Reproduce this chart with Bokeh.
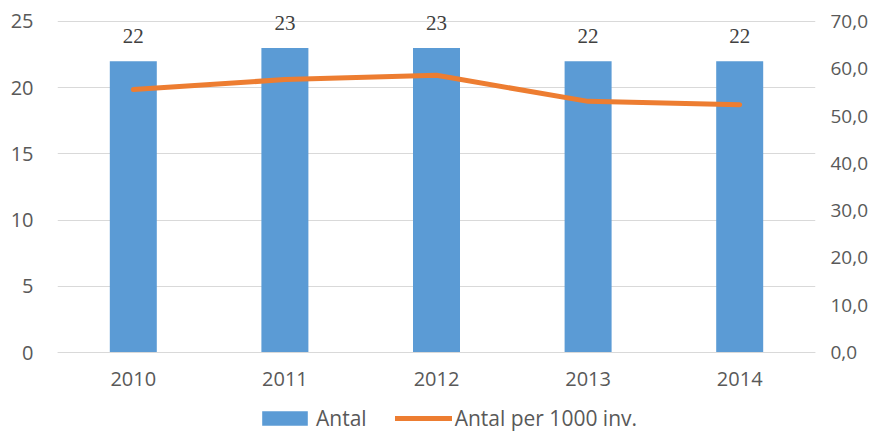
from bokeh.plotting import figure
from bokeh.models import (ColumnDataSource, Range1d, LinearAxis, FixedTicker,
                          Legend, LegendItem, LabelSet)
from bokeh.embed import file_html
from bokeh.resources import INLINE

years = ["2010", "2011", "2012", "2013", "2014"]
antal = [22, 23, 23, 22, 22]
per_1000 = [55.6, 57.7, 58.6, 53.1, 52.4]
left_ticks = [0, 5, 10, 15, 20, 25]
right_ticks = [0, 10, 20, 30, 40, 50, 60, 70]
right_tick_labels = ["0,0", "10,0", "20,0", "30,0", "40,0", "50,0", "60,0", "70,0"]

FONT = "Open Sans"
TXT = "#595959"
BLUE = "#5B9BD5"
ORANGE = "#ED7D31"
GRID = "#D9D9D9"

# view extents: head-room above the top gridline for value labels,
# room below zero for category labels and the legend
Y_TOP = 26.2
Y_BOTTOM = -6.03
K = 70 / 25

src = ColumnDataSource(dict(year=years, antal=antal, per=per_1000,
                            lbl=[str(v) for v in antal]))

p = figure(width=871, height=432, x_range=years, y_range=Range1d(Y_BOTTOM, Y_TOP),
           output_backend="svg", toolbar_location=None,
           min_border_left=57, min_border_right=53, min_border_top=5,
           min_border_bottom=0, outline_line_color=None)
p.extra_y_ranges = {"right": Range1d(Y_BOTTOM * K, Y_TOP * K)}

bars = p.vbar(x="year", top="antal", width=0.31, source=src,
              fill_color=BLUE, line_color=None)
line = p.line(x="year", y="per", source=src, y_range_name="right",
              line_color=ORANGE, line_width=5, line_cap="round", line_join="round")

labels = LabelSet(x="year", y="antal", text="lbl", source=src,
                  text_align="center", text_baseline="alphabetic",
                  y_offset=18, text_font=FONT, text_font_size="21px",
                  text_color="#404040")
p.add_layout(labels)

# axes
p.yaxis.ticker = FixedTicker(ticks=left_ticks)
ra = LinearAxis(y_range_name="right", ticker=FixedTicker(ticks=right_ticks),
                major_label_overrides={t: s for t, s in zip(right_ticks, right_tick_labels)})
p.add_layout(ra, "right")

for ax in [p.yaxis[0], ra]:
    ax.axis_line_color = None
    ax.major_tick_line_color = None
    ax.minor_tick_line_color = None
    ax.major_tick_out = 0
    ax.minor_tick_out = 0
    ax.major_label_text_font = FONT
    ax.major_label_text_color = TXT
p.yaxis[0].major_label_text_font_size = "20px"
p.yaxis[0].major_label_standoff = 24
ra.major_label_text_font_size = "19px"
ra.major_label_standoff = 15

xa = p.xaxis[0]
xa.fixed_location = 0
xa.axis_line_color = GRID
xa.major_tick_line_color = None
xa.minor_tick_line_color = None
xa.major_tick_out = 0
xa.minor_tick_out = 0
xa.major_label_text_font = FONT
xa.major_label_text_font_size = "20px"
xa.major_label_text_color = TXT
xa.major_label_standoff = 19

p.xgrid.grid_line_color = None
p.ygrid.grid_line_color = GRID
p.ygrid.grid_line_width = 1

legend = Legend(items=[LegendItem(label="Antal", renderers=[bars]),
                       LegendItem(label="Antal per 1000 inv.", renderers=[line])],
                orientation="horizontal", location=(199, 0),
                border_line_color=None, background_fill_alpha=0,
                label_text_font=FONT, label_text_font_size="21px",
                label_text_color=TXT, glyph_width=57, glyph_height=18,
                spacing=28, label_standoff=3, padding=0, margin=0)
p.add_layout(legend)

open("out.html", "w").write(file_html(p, INLINE))
